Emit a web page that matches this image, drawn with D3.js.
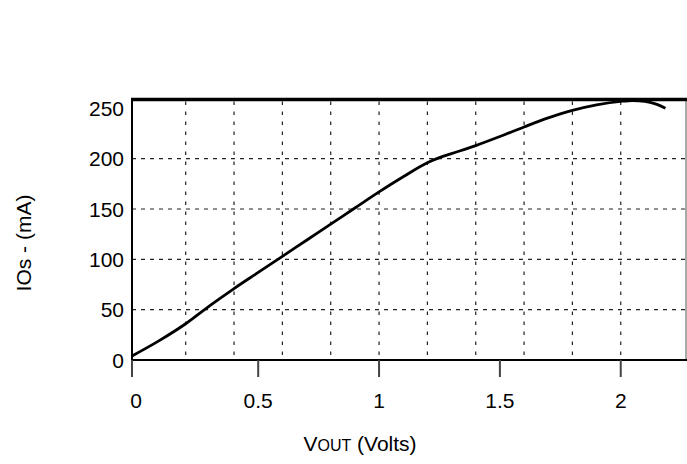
<!DOCTYPE html>
<html><head><meta charset="utf-8">
<script src="https://cdn.jsdelivr.net/npm/d3@7"></script>
<style>body{margin:0;background:#fff}svg{display:block}text{font-family:"Liberation Sans",Arial,sans-serif;fill:#000}</style>
</head><body><svg id="c" width="687" height="464"></svg>
<script>
const vout = [0, 0.1, 0.2, 0.3, 0.4, 0.5, 0.6, 0.7, 0.8, 0.9, 1.0, 1.1, 1.2, 1.25, 1.3, 1.4, 1.5, 1.6, 1.7, 1.8, 1.9, 2.0, 2.05, 2.1, 2.15, 2.185];
const ios = [4, 19, 36, 54, 71, 87, 103, 119, 135, 151, 167, 182, 196, 201, 205, 213, 222, 231.5, 240.5, 248, 253.5, 257, 257.8, 257, 254, 250];
const xTicks = [0, 0.5, 1, 1.5, 2];
const xGrid = [0.2, 0.4, 0.6, 0.8, 1.0, 1.2, 1.4, 1.6, 1.8, 2.0];
const yTicks = [0, 50, 100, 150, 200, 250];
const yGrid = [50, 100, 150, 200];

const svg = d3.select("#c");
const L = 132, R = 686, T = 99.5, B = 360;
const x = d3.scaleLinear().domain([0, 0.2, 2.27]).range([L, 185.7, R]);
const y = d3.scaleLinear().domain([0, 258.8]).range([B, T]);

// grid
svg.append("g").selectAll("line").data(xGrid).join("line")
  .attr("x1", d => x(d)).attr("x2", d => x(d)).attr("y1", T + 2).attr("y2", B - 1)
  .attr("stroke", "#222").attr("stroke-width", 1.2).attr("stroke-dasharray", "3.5,6.5");
svg.append("g").selectAll("line").data(yGrid).join("line")
  .attr("x1", L).attr("x2", R).attr("y1", d => y(d)).attr("y2", d => y(d))
  .attr("stroke", "#222").attr("stroke-width", 1.2).attr("stroke-dasharray", "4,5");

// frame
svg.append("line").attr("x1", R).attr("x2", R).attr("y1", T).attr("y2", B).attr("stroke", "#555").attr("stroke-width", 1);
svg.append("line").attr("x1", L - 1).attr("x2", R + 1).attr("y1", T).attr("y2", T).attr("stroke", "#000").attr("stroke-width", 3.5);
svg.append("line").attr("x1", L).attr("x2", L).attr("y1", T).attr("y2", B + 1).attr("stroke", "#000").attr("stroke-width", 2);
svg.append("line").attr("x1", L).attr("x2", R + 1).attr("y1", B).attr("y2", B).attr("stroke", "#000").attr("stroke-width", 2);

// x ticks
const xt = svg.append("g").selectAll("g").data(xTicks).join("g");
xt.append("line").attr("x1", d => x(d)).attr("x2", d => x(d)).attr("y1", B).attr("y2", B + 17)
  .attr("stroke", "#444").attr("stroke-width", 2);
xt.append("text").attr("x", d => x(d) + (d === 0 ? 4 : 0)).attr("y", 408).attr("text-anchor", "middle")
  .attr("font-size", 21).text(d => d3.format("")(d));

// y labels
svg.append("g").selectAll("text").data(yTicks).join("text")
  .attr("x", 124).attr("y", d => y(d)).attr("dy", "0.36em").attr("text-anchor", "end")
  .attr("font-size", 21).text(d => d);

// curve
const line = d3.line().x((d, i) => x(vout[i])).y((d, i) => y(ios[i])).curve(d3.curveMonotoneX);
svg.append("path").datum(ios).attr("d", line).attr("fill", "none").attr("stroke", "#000").attr("stroke-width", 2.8);

// titles
const xt2 = svg.append("text").attr("x", 360).attr("y", 451).attr("text-anchor", "middle").attr("font-size", 21);
xt2.append("tspan").text("V");
xt2.append("tspan").attr("font-size", 16).text("OUT");
xt2.append("tspan").text(" (Volts)");
svg.append("text").attr("transform", "translate(31,243) rotate(-90)").attr("text-anchor", "middle")
  .attr("font-size", 21).text("IOs - (mA)");
</script></body></html>
